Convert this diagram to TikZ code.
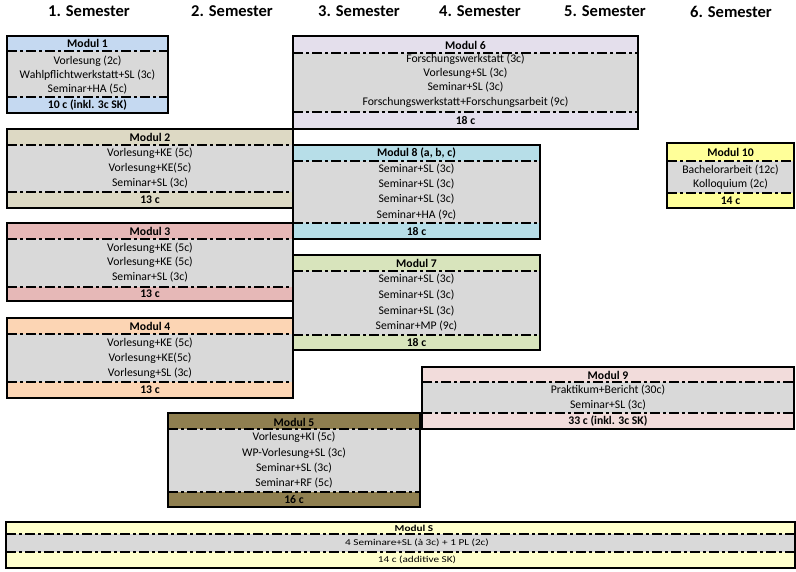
\documentclass[tikz,border=0pt]{standalone}
\usepackage{fontspec}
\setmainfont{Carlito}
\usepackage{graphicx}
\usepackage{tikz}
\usetikzlibrary{positioning}
\usepackage{xcolor}

\definecolor{grau}{HTML}{D9D9D9}
\definecolor{blau}{HTML}{C5D9F1}
\definecolor{lila}{HTML}{E4DFEC}
\definecolor{sand}{HTML}{DDD9C4}
\definecolor{rosa}{HTML}{E6B8B7}
\definecolor{pfirsich}{HTML}{FCD5B4}
\definecolor{hellblau}{HTML}{B7DEE8}
\definecolor{gruen}{HTML}{D8E4BC}
\definecolor{gelb}{HTML}{FFFF99}
\definecolor{altrosa}{HTML}{F2DCDB}
\definecolor{oliv}{HTML}{8F7F50}
\definecolor{hellgelb}{HTML}{FFFFCC}

\begin{document}
\begin{tikzpicture}[x=1pt, y=-1pt,
        box/.style={draw, line width=2.5pt},
        trenner/.style={line width=1.8pt, dash pattern=on 10pt off 3pt on 3pt off 3pt},
        titel/.style={font=\bfseries\fontsize{11.7}{12}\selectfont, inner sep=0pt},
        eintrag/.style={font=\fontsize{11.7}{12}\selectfont, inner sep=0pt},
        klein/.style={font=\fontsize{9}{10}\selectfont, inner sep=0pt},
        semester/.style={font=\bfseries\fontsize{16.5}{18}\selectfont, inner sep=0pt}
    ]
        \useasboundingbox (0,0) rectangle (796,571);

        % Semester headings
        \node[semester] (s1) at (89,11) {1. Semester};
        \node[semester] (s2) at (232,11) {2. Semester};
        \node[semester] (s3) at (359,11) {3. Semester};
        \node[semester] (s4) at (480,11) {4. Semester};
        \node[semester] (s5) at (605,11) {5. Semester};
        \node[semester] (s6) at (731,12) {6. Semester};

        % Modul 1
        \fill[blau] (7,36) rectangle (168,113);
        \fill[grau] (7,51) rectangle (168,97);
        \draw[trenner] (7,51) -- (168,51) (7,97) -- (168,97);
        \draw[box] (7,36) rectangle (168,113);
        \node[titel] (m1) at (87.5,43) {Modul 1};
        \foreach \y/\t [count=\i] in {61/{Vorlesung (2c)}, 75/{Wahlpflichtwerkstatt+SL (3c)}, 89/{Seminar+HA (5c)}}
            \node[eintrag] (m1-\i) at (87.5,\y) {\t};
        \node[titel] (m1-c) at (87.5,105.5) {10 c (inkl. 3c SK)};

        % Modul 6
        \fill[lila] (293,36) rectangle (638,129);
        \fill[grau] (293,53) rectangle (638,112);
        \draw[trenner] (293,53) -- (638,53) (293,112) -- (638,112);
        \draw[box] (293,36) rectangle (638,129);
        \node[titel] (m6) at (465.5,45) {Modul 6};
        \foreach \y/\t [count=\i] in {59/{Forschungswerkstatt (3c)}, 73/{Vorlesung+SL (3c)}, 87/{Seminar+SL (3c)}, 102/{Forschungswerkstatt+Forschungsarbeit (9c)}}
            \node[eintrag] (m6-\i) at (465.5,\y) {\t};
        \node[titel] (m6-c) at (465.5,120.5) {18 c};

        % Modul 2
        \fill[sand] (7,129) rectangle (293,208);
        \fill[grau] (7,145) rectangle (293,192);
        \draw[trenner] (7,145) -- (293,145) (7,192) -- (293,192);
        \draw[box] (7,129) rectangle (293,208);
        \node[titel] (m2) at (150,137) {Modul 2};
        \foreach \y/\t [count=\i] in {153/{Vorlesung+KE (5c)}, 168/{Vorlesung+KE(5c)}, 183/{Seminar+SL (3c)}}
            \node[eintrag] (m2-\i) at (150,\y) {\t};
        \node[titel] (m2-c) at (150,200) {13 c};

        % Modul 8
        \fill[hellblau] (293,145) rectangle (540,239);
        \fill[grau] (293,161) rectangle (540,223);
        \draw[trenner] (293,161) -- (540,161) (293,223) -- (540,223);
        \draw[box] (293,145) rectangle (540,239);
        \node[titel] (m8) at (416.5,153) {Modul 8 (a, b, c)};
        \foreach \y/\t [count=\i] in {169/{Seminar+SL (3c)}, 184/{Seminar+SL (3c)}, 199/{Seminar+SL (3c)}, 215/{Seminar+HA (9c)}}
            \node[eintrag] (m8-\i) at (416.5,\y) {\t};
        \node[titel] (m8-c) at (416.5,231) {18 c};

        % Modul 10
        \fill[gelb] (667,143) rectangle (794,208);
        \fill[grau] (667,161) rectangle (794,193);
        \draw[trenner] (667,161) -- (794,161) (667,193) -- (794,193);
        \draw[box] (667,143) rectangle (794,208);
        \node[titel] (m10) at (730.5,152) {Modul 10};
        \foreach \y/\t [count=\i] in {170/{Bachelorarbeit (12c)}, 184/{Kolloquium (2c)}}
            \node[eintrag] (m10-\i) at (730.5,\y) {\t};
        \node[titel] (m10-c) at (730.5,200.5) {14 c};

        % Modul 3
        \fill[rosa] (7,223) rectangle (293,301);
        \fill[grau] (7,239) rectangle (293,287);
        \draw[trenner] (7,239) -- (293,239) (7,287) -- (293,287);
        \draw[box] (7,223) rectangle (293,301);
        \node[titel] (m3) at (150,231) {Modul 3};
        \foreach \y/\t [count=\i] in {248/{Vorlesung+KE (5c)}, 262/{Vorlesung+KE (5c)}, 277/{Seminar+SL (3c)}}
            \node[eintrag] (m3-\i) at (150,\y) {\t};
        \node[titel] (m3-c) at (150,294) {13 c};

        % Modul 7
        \fill[gruen] (293,255) rectangle (540,350);
        \fill[grau] (293,271) rectangle (540,335);
        \draw[trenner] (293,271) -- (540,271) (293,335) -- (540,335);
        \draw[box] (293,255) rectangle (540,350);
        \node[titel] (m7) at (416.5,263) {Modul 7};
        \foreach \y/\t [count=\i] in {279/{Seminar+SL (3c)}, 295/{Seminar+SL (3c)}, 311/{Seminar+SL (3c)}, 326/{Seminar+MP (9c)}}
            \node[eintrag] (m7-\i) at (416.5,\y) {\t};
        \node[titel] (m7-c) at (416.5,342.5) {18 c};

        % Modul 4
        \fill[pfirsich] (7,318) rectangle (293,398);
        \fill[grau] (7,334) rectangle (293,382);
        \draw[trenner] (7,334) -- (293,334) (7,382) -- (293,382);
        \draw[box] (7,318) rectangle (293,398);
        \node[titel] (m4) at (150,326) {Modul 4};
        \foreach \y/\t [count=\i] in {343/{Vorlesung+KE (5c)}, 358/{Vorlesung+KE(5c)}, 373/{Vorlesung+SL (3c)}}
            \node[eintrag] (m4-\i) at (150,\y) {\t};
        \node[titel] (m4-c) at (150,390) {13 c};

        % Modul 9
        \fill[altrosa] (422,367) rectangle (794,429);
        \fill[grau] (422,382) rectangle (794,413);
        \draw[trenner] (422,382) -- (794,382) (422,413) -- (794,413);
        \draw[box] (422,367) rectangle (794,429);
        \node[titel] (m9) at (608,375) {Modul 9};
        \foreach \y/\t [count=\i] in {390/{Praktikum+Bericht (30c)}, 405/{Seminar+SL (3c)}}
            \node[eintrag] (m9-\i) at (608,\y) {\t};
        \node[titel] (m9-c) at (608,421.5) {33 c (inkl. 3c SK)};

        % Modul 5
        \fill[oliv] (168,413) rectangle (420,507);
        \fill[grau] (168,429) rectangle (420,492);
        \draw[trenner] (168,429) -- (420,429) (168,492) -- (420,492);
        \draw[box] (168,413) rectangle (420,507);
        \node[titel] (m5) at (294,422) {Modul 5};
        \foreach \y/\t [count=\i] in {437/{Vorlesung+KI (5c)}, 453/{WP-Vorlesung+SL (3c)}, 468/{Seminar+SL (3c)}, 483/{Seminar+RF (5c)}}
            \node[eintrag] (m5-\i) at (294,\y) {\t};
        \node[titel] (m5-c) at (294,499.5) {16 c};

        % Modul S (horizontally stretched text)
        \fill[hellgelb] (6,522) rectangle (795,568);
        \fill[grau] (6,534) rectangle (795,552);
        \draw[trenner] (6,534) -- (795,534) (6,552) -- (795,552);
        \draw[box] (6,522) rectangle (795,568);
        \node[klein] (ms) at (414,528) {\scalebox{1.25}[1]{\bfseries Modul S}};
        \node[klein] (ms-1) at (417,543) {\scalebox{1.25}[1]{4 Seminare+SL (à 3c) + 1 PL (2c)}};
        \node[klein] (ms-c) at (417,560) {\scalebox{1.25}[1]{14 c (additive SK)}};

    \end{tikzpicture}
\end{document}
